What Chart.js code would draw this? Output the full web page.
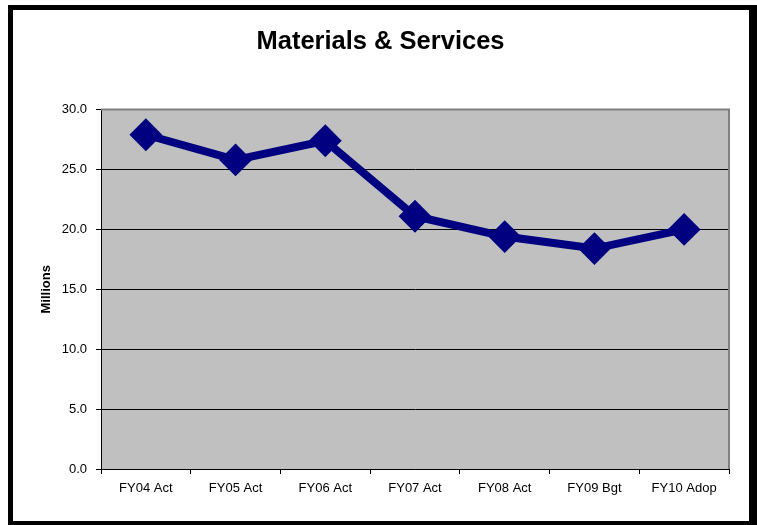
<!DOCTYPE html>
<html>
<head>
<meta charset="utf-8">
<script src="https://cdn.jsdelivr.net/npm/chart.js@4/dist/chart.umd.min.js"></script>
<style>
  html, body { margin: 0; padding: 0; background: #fff; }
  #wrap { position: relative; width: 757px; height: 525px; overflow: hidden; }
  #c { position: absolute; left: 0; top: 0; }
  #frame {
    position: absolute; left: 8px; top: 5px; width: 749px; height: 520px;
    box-sizing: border-box; pointer-events: none;
    border-left: 5px solid #000; border-top: 5px solid #000;
    border-right: 8px solid #000; border-bottom: 4px solid #000;
  }
</style>
</head>
<body>
<div id="wrap">
  <canvas id="c" width="757" height="525"></canvas>
  <div id="frame"></div>
</div>
<script>
const categories = ["FY04 Act", "FY05 Act", "FY06 Act", "FY07 Act", "FY08 Act", "FY09 Bgt", "FY10 Adop"];
const materialsServices = [27.9, 25.8, 27.4, 21.1, 19.4, 18.4, 20.0];
const chartTitle = "Materials & Services";
const yAxisTitle = "Millions";

const FONT = "'Liberation Sans', Arial, Helvetica, sans-serif";

const plotBg = {
  id: 'plotBg',
  beforeDraw(chart) {
    const {ctx, chartArea: a} = chart;
    ctx.save();
    ctx.fillStyle = '#C0C0C0';
    ctx.fillRect(a.left, a.top, a.right - a.left, a.bottom - a.top);
    ctx.restore();
  },
  beforeDatasetsDraw(chart) {
    const {ctx, chartArea: a} = chart;
    ctx.save();
    ctx.strokeStyle = '#808080';
    ctx.lineWidth = 2;
    ctx.beginPath();
    ctx.moveTo(a.left, a.top);
    ctx.lineTo(a.right, a.top);
    ctx.lineTo(a.right, a.bottom);
    ctx.stroke();
    ctx.restore();
  }
};

new Chart(document.getElementById('c'), {
  type: 'line',
  data: {
    labels: categories,
    datasets: [{
      label: chartTitle,
      data: materialsServices,
      borderColor: '#000080',
      backgroundColor: '#000080',
      borderWidth: 8,
      tension: 0,
      pointStyle: 'rectRot',
      pointRadius: 15,
      pointHoverRadius: 15,
      pointBorderWidth: 2,
      pointBackgroundColor: '#000080',
      pointBorderColor: '#000080',
      fill: false
    }]
  },
  options: {
    responsive: false,
    animation: false,
    devicePixelRatio: 1,
    layout: { padding: { left: 32, right: 28, top: 0, bottom: 0 } },
    plugins: {
      legend: { display: false },
      tooltip: { enabled: false },
      title: {
        display: true,
        text: chartTitle,
        color: '#000',
        font: { family: FONT, size: 25.5, weight: 'bold' },
        padding: { top: 27, bottom: 52 }
      }
    },
    scales: {
      x: {
        offset: true,
        afterFit(scale) { scale.height = 56; },
        grid: {
          offset: true,
          drawOnChartArea: false,
          drawTicks: true,
          tickLength: 5,
          color: '#000'
        },
        border: { display: true, color: '#000', width: 1 },
        ticks: {
          color: '#000',
          padding: 7,
          maxRotation: 0,
          font: { family: FONT, size: 13 }
        }
      },
      y: {
        min: 0,
        max: 30,
        afterFit(scale) { scale.width = 69; },
        grid: {
          color: '#000',
          lineWidth: 1,
          tickLength: 5,
          drawTicks: true
        },
        border: { display: true, color: '#000', width: 1 },
        ticks: {
          stepSize: 5,
          color: '#000',
          padding: 9,
          font: { family: FONT, size: 13 },
          callback: (v) => Number(v).toFixed(1)
        },
        title: {
          display: true,
          text: yAxisTitle,
          color: '#000',
          font: { family: FONT, size: 13, weight: 'bold' },
          padding: { top: 7, bottom: 0 }
        }
      }
    }
  },
  plugins: [plotBg]
});
</script>
</body>
</html>
